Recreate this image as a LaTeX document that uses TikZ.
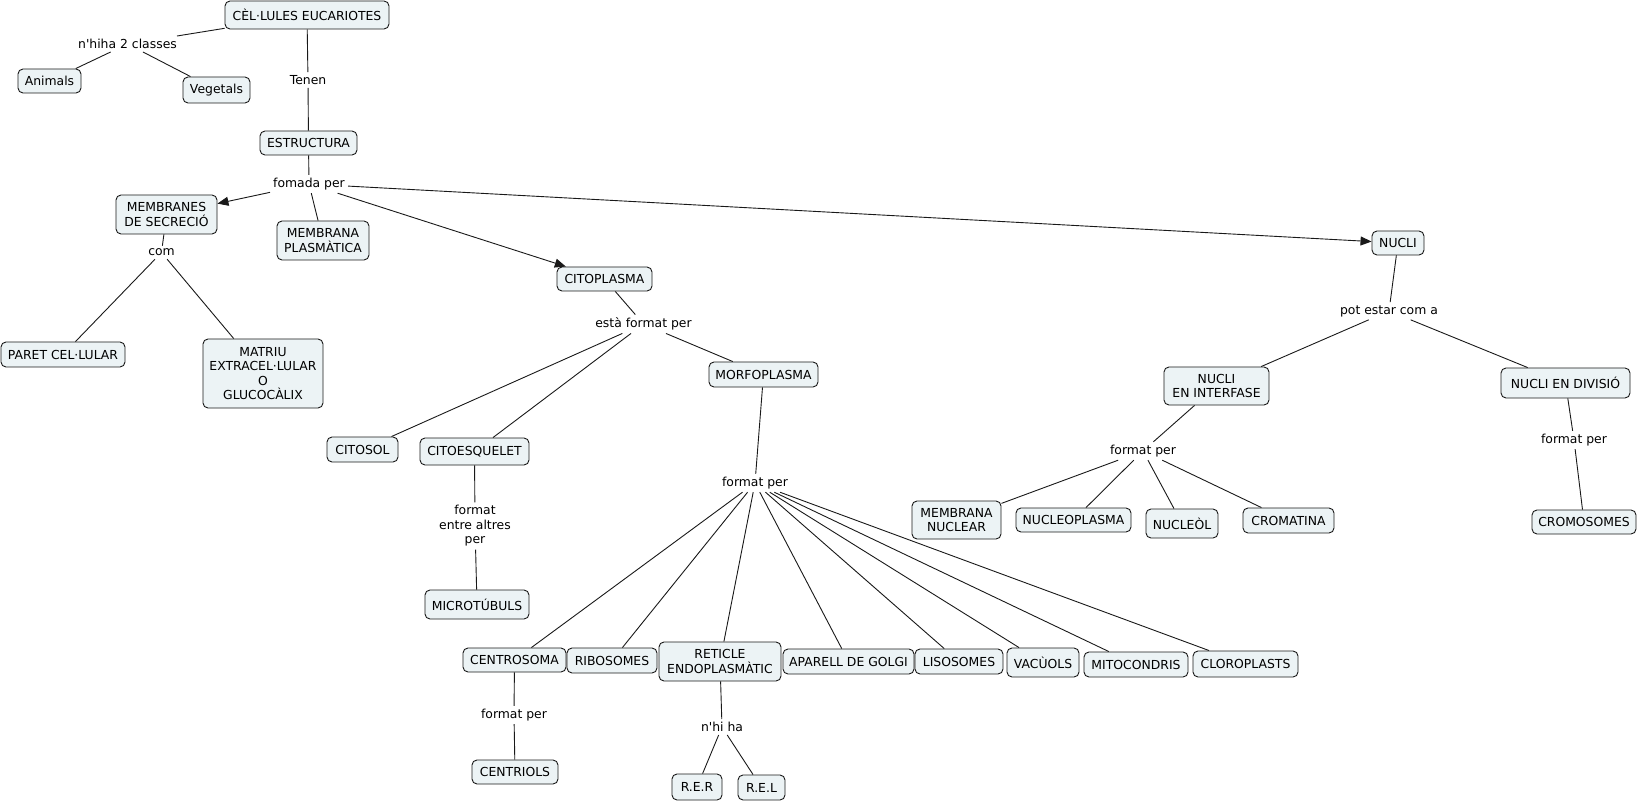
\documentclass[tikz,border=0pt]{standalone}
\usepackage{fontspec}
\setmainfont{DejaVu Sans}[Ligatures=TeXOff]
\usetikzlibrary{arrows.meta}
\definecolor{boxfill}{RGB}{236,243,245}
\definecolor{edge}{RGB}{25,25,25}
\newcommand\fs{\fontsize{12.4}{14.5}\selectfont}
\tikzset{
  box/.style={draw=edge, fill=boxfill, rounded corners=5pt, align=center, inner sep=0pt, font=\fs, line width=0.9pt},
  lbl/.style={align=center, inner sep=3pt, font=\fs},
  con/.style={line width=0.9pt, draw=edge},
  arr/.style={con, -{Triangle[length=11pt,width=9pt]}},
}
\begin{document}
\begin{tikzpicture}[x=1pt,y=-1pt]
\useasboundingbox (0,0) rectangle (1639,802);
% boxes
\node[box, minimum width=164pt, minimum height=28pt] (cel) at (307,15) {CÈL·LULES EUCARIOTES};
\node[box, minimum width=63pt, minimum height=24pt] (animals) at (49.5,81) {Animals};
\node[box, minimum width=67pt, minimum height=26pt] (vegetals) at (216.5,90) {Vegetals};
\node[box, minimum width=97pt, minimum height=24pt] (estructura) at (308.5,143) {ESTRUCTURA};
\node[box, minimum width=101pt, minimum height=39pt] (membranes) at (166.5,214.5) {MEMBRANES\\DE SECRECIÓ};
\node[box, minimum width=92pt, minimum height=39pt] (plasm) at (323,240.5) {MEMBRANA\\PLASMÀTICA};
\node[box, minimum width=124pt, minimum height=25pt] (paret) at (63,354.5) {PARET CEL·LULAR};
\node[box, minimum width=120pt, minimum height=69pt] (matriu) at (263,373.5) {MATRIU\\EXTRACEL·LULAR\\O\\GLUCOCÀLIX};
\node[box, minimum width=95pt, minimum height=24pt] (citoplasma) at (604.5,279) {CITOPLASMA};
\node[box, minimum width=109pt, minimum height=25pt] (morfo) at (763.5,374.5) {MORFOPLASMA};
\node[box, minimum width=71pt, minimum height=25pt] (citosol) at (362.5,449.5) {CITOSOL};
\node[box, minimum width=109pt, minimum height=27pt] (citoesq) at (474.5,451.5) {CITOESQUELET};
\node[box, minimum width=104pt, minimum height=29pt] (micro) at (477,604.5) {MICROTÚBULS};
\node[box, minimum width=103pt, minimum height=24pt] (centrosoma) at (514.5,660) {CENTROSOMA};
\node[box, minimum width=90pt, minimum height=25pt] (ribosomes) at (612,660.5) {RIBOSOMES};
\node[box, minimum width=122pt, minimum height=39pt] (reticle) at (720,661.5) {RETICLE\\ENDOPLASMÀTIC};
\node[box, minimum width=131pt, minimum height=25pt] (aparell) at (848.5,661.5) {APARELL DE GOLGI};
\node[box, minimum width=88pt, minimum height=25pt] (lisosomes) at (959,661.5) {LISOSOMES};
\node[box, minimum width=72pt, minimum height=29pt] (vacuols) at (1043,662.5) {VACÙOLS};
\node[box, minimum width=104pt, minimum height=25pt] (mitocondris) at (1136,664.5) {MITOCONDRIS};
\node[box, minimum width=105pt, minimum height=26pt] (cloroplasts) at (1245.5,664) {CLOROPLASTS};
\node[box, minimum width=86pt, minimum height=24pt] (centriols) at (515,772) {CENTRIOLS};
\node[box, minimum width=50pt, minimum height=26pt] (rer) at (697,787) {R.E.R};
\node[box, minimum width=47pt, minimum height=25pt] (rel) at (761.5,787.5) {R.E.L};
\node[box, minimum width=52pt, minimum height=24pt] (nucli) at (1398,243) {NUCLI};
\node[box, minimum width=105pt, minimum height=38pt] (interfase) at (1216.5,386) {NUCLI\\EN INTERFASE};
\node[box, minimum width=129pt, minimum height=30pt] (divisio) at (1565.5,383) {NUCLI EN DIVISIÓ};
\node[box, minimum width=104pt, minimum height=24pt] (cromosomes) at (1584,522) {CROMOSOMES};
\node[box, minimum width=89pt, minimum height=38pt] (memnuc) at (956.5,520) {MEMBRANA\\NUCLEAR};
\node[box, minimum width=115pt, minimum height=24pt] (nucleoplasma) at (1073.5,520) {NUCLEOPLASMA};
\node[box, minimum width=72pt, minimum height=29pt] (nucleol) at (1182,523.5) {NUCLEÒL};
\node[box, minimum width=91pt, minimum height=25pt] (cromatina) at (1288.5,520.5) {CROMATINA};
% linking phrases
\node[lbl] (nhiha) at (127.5,44) {n'hiha 2 classes};
\node[lbl] (tenen) at (308,80) {Tenen};
\node[lbl] (fomada) at (309,184) {fomada per};
\node[lbl] (com) at (161.5,252.5) {com};
\node[lbl] (esta) at (643.5,324) {està format per};
\node[lbl] (fea) at (475,526) {format\\entre altres\\per};
\node[lbl] (fp1) at (755,483) {format per};
\node[lbl] (fp2) at (514,715) {format per};
\node[lbl] (nhiha2) at (722,727) {n'hi ha};
\node[lbl] (pot) at (1389,311) {pot estar com a};
\node[lbl] (fp3) at (1143,451) {format per};
\node[lbl] (fp4) at (1574,440) {format per};
% connectors
\draw[con] (cel) -- (nhiha);
\draw[con] (nhiha) -- (animals);
\draw[con] (nhiha) -- (vegetals);
\draw[con] (cel) -- (tenen);
\draw[con] (tenen) -- (estructura);
\draw[con] (estructura) -- (fomada);
\draw[arr] (fomada) -- (membranes);
\draw[con] (fomada) -- (plasm);
\draw[arr] (fomada) -- (citoplasma);
\draw[arr] (fomada) -- (nucli);
\draw[con] (membranes) -- (com);
\draw[con] (com) -- (paret);
\draw[con] (com) -- (matriu);
\draw[con] (citoplasma) -- (esta);
\draw[con] (esta) -- (citosol);
\draw[con] (esta) -- (citoesq);
\draw[con] (esta) -- (morfo);
\draw[con] (citoesq) -- (fea);
\draw[con] (fea) -- (micro);
\draw[con] (morfo) -- (fp1);
\foreach \t in {centrosoma,ribosomes,reticle,aparell,lisosomes,vacuols,mitocondris,cloroplasts}
  \draw[con] (fp1) -- (\t);
\draw[con] (centrosoma) -- (fp2);
\draw[con] (fp2) -- (centriols);
\draw[con] (reticle) -- (nhiha2);
\draw[con] (nhiha2) -- (rer);
\draw[con] (nhiha2) -- (rel);
\draw[con] (nucli) -- (pot);
\draw[con] (pot) -- (interfase);
\draw[con] (pot) -- (divisio);
\draw[con] (interfase) -- (fp3);
\foreach \t in {memnuc,nucleoplasma,nucleol,cromatina}
  \draw[con] (fp3) -- (\t);
\draw[con] (divisio) -- (fp4);
\draw[con] (fp4) -- (cromosomes);
\end{tikzpicture}
\end{document}
